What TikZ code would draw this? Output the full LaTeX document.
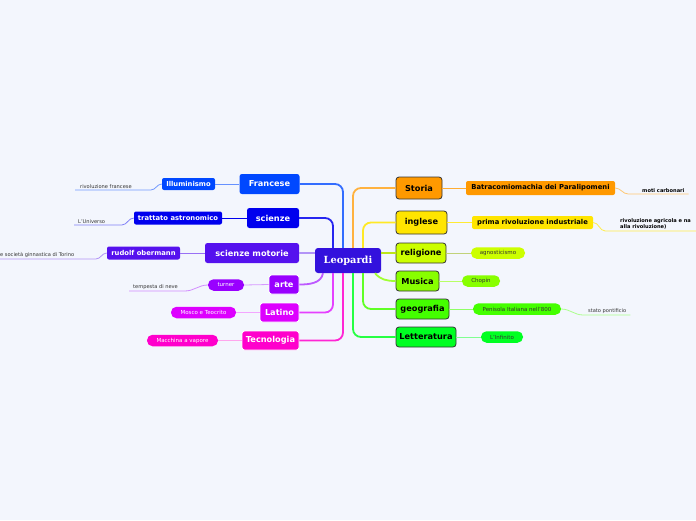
\documentclass[tikz,border=0pt]{standalone}
\usepackage{fontspec}
\setmainfont{DejaVu Sans}
\newfontfamily\rootfont{DejaVu Serif}
\usepackage{xcolor}
\usetikzlibrary{positioning}

\definecolor{bgcol}{HTML}{F3F6FD}
\definecolor{cfra}{HTML}{0048FF}
\definecolor{csci}{HTML}{0000EE}
\definecolor{cmot}{HTML}{5511EE}
\definecolor{carte}{HTML}{9900FF}
\definecolor{clat}{HTML}{DD00FF}
\definecolor{ctec}{HTML}{FF00CC}
\definecolor{croot}{HTML}{3311DD}
\definecolor{csto}{HTML}{FF9900}
\definecolor{cing}{HTML}{FFE500}
\definecolor{crel}{HTML}{CCFF00}
\definecolor{cmus}{HTML}{88FF00}
\definecolor{cgeo}{HTML}{44FF00}
\definecolor{clet}{HTML}{00FF22}
\definecolor{leaftxt}{HTML}{333333}

\begin{document}
\begin{tikzpicture}[
  x=1pt,y=-1pt,
  rootbox/.style={rectangle,rounded corners=3pt,fill=croot,text=white,
                  font=\rootfont\bfseries\fontsize{9.8}{11}\selectfont,
                  minimum width=66pt,minimum height=25pt,inner sep=0pt},
  lmain/.style={rectangle,rounded corners=2.5pt,text=white,inner sep=0pt,
                font=\bfseries\fontsize{8.2}{9}\selectfont,minimum height=20pt},
  lmainw/.style={lmain,draw=white,line width=0.9pt},
  rmain/.style={rectangle,rounded corners=3pt,draw=black!80,line width=0.8pt,
                text=black,inner sep=0pt,font=\bfseries\fontsize{8.2}{9}\selectfont,
                minimum height=20pt},
  subbox/.style={rectangle,rounded corners=2pt,inner sep=0pt,minimum height=13pt,
                 font=\bfseries\fontsize{6.8}{7}\selectfont},
  pill/.style={rectangle,rounded corners=5.5pt,inner sep=0pt,minimum height=11.5pt,
               font=\fontsize{5.5}{6}\selectfont},
  leaf/.style={anchor=south west,inner xsep=0pt,inner ysep=1.5pt,text=leaftxt,
               font=\fontsize{5.1}{5.5}\selectfont},
  leafb/.style={leaf,font=\bfseries\fontsize{5.1}{6}\selectfont,text=black,align=left},
  branch/.style={line width=1.8pt,rounded corners=8pt},
  subline/.style={line width=0.8pt},
  leafline/.style={line width=0.8pt}
]
\fill[bgcol] (0,0) rectangle (696,520);
\useasboundingbox (0,0) rectangle (696,520);

% centre
\node[rootbox] (leo) at (348,260.5) {Leopardi};

% left branches
\node[lmain,fill=cfra,minimum width=60pt] (fra) at (269.5,184) {Francese};
\node[lmain,fill=csci,minimum width=52pt] (sci) at (273,218) {scienze};
\node[lmain,fill=cmot,minimum width=94pt] (mot) at (252,253) {scienze motorie};
\node[lmainw,fill=carte,minimum width=30pt,minimum height=19pt] (arte) at (284,284.5) {arte};
\node[lmainw,fill=clat,minimum width=39pt,minimum height=19pt] (lat) at (279.5,312.5) {Latino};
\node[lmainw,fill=ctec,minimum width=57pt,minimum height=19pt] (tec) at (270.5,340.5) {Tecnologia};

\node[subbox,fill=cfra,text=white,minimum width=53pt,minimum height=12pt] (ill) at (188.5,184) {Illuminismo};
\node[subbox,fill=csci,text=white,minimum width=88pt] (tra) at (178,218) {trattato astronomico};
\node[subbox,fill=cmot,text=white,minimum width=73pt] (rud) at (143.5,253) {rudolf obermann};
\node[pill,fill=carte,text=white,minimum width=36pt] (tur) at (226,285) {turner};
\node[pill,fill=clat,text=white,minimum width=65pt] (mos) at (203.5,312.5) {Mosco e Teocrito};
\node[pill,fill=ctec,text=white,minimum width=71pt] (mac) at (182.5,340.5) {Macchina a vapore};

\node[leaf] (rivf) at (80,190) {rivoluzione francese};
\node[leaf] (univ) at (78,225) {L'Universo};
\node[leaf] (ginn) at (0,259) {e società ginnastica di Torino};
\node[leaf] (temp) at (133,291) {tempesta di neve};

% right branches
\node[rmain,fill=csto,minimum width=46pt,minimum height=22pt] (sto) at (419,188) {Storia};
\node[rmain,fill=cing,minimum width=51pt,minimum height=23pt] (ing) at (421.5,222.5) {inglese};
\node[rmain,fill=crel,minimum width=50pt] (rel) at (421,253) {religione};
\node[rmain,fill=cmus,minimum width=43pt] (mus) at (417.5,281) {Musica};
\node[rmain,fill=cgeo,minimum width=53pt] (geo) at (422.5,309) {geografia};
\node[rmain,fill=clet,minimum width=60pt] (let) at (426,337) {Letteratura};

\node[subbox,fill=csto,text=black,minimum width=149pt,minimum height=14pt] (bat) at (540.5,188) {Batracomiomachia dei Paralipomeni};
\node[subbox,fill=cing,text=black,minimum width=121pt] (pri) at (532.5,222.5) {prima rivoluzione industriale};
\node[pill,fill=crel,text=leaftxt,minimum width=54pt] (agn) at (498,253) {agnosticismo};
\node[pill,fill=cmus,text=leaftxt,minimum width=38pt] (cho) at (481,281) {Chopin};
\node[pill,fill=cgeo,text=leaftxt,minimum width=88pt] (pen) at (517,309) {Penisola Italiana nell'800};
\node[pill,fill=clet,text=leaftxt,minimum width=42pt] (inf) at (502,337) {L'Infinito};

\node[leafb] (moti) at (642,194) {moti carbonari};
\node[leafb] (agri) at (620,231) {rivoluzione agricola e na\\alla rivoluzione)};
\node[leaf] (pont) at (588,315) {stato pontificio};

% centre to branches
\draw[branch,cfra!80] (fra.east) -| ([xshift=-5pt]leo.north);
\draw[branch,csci!85] (sci.east) -| ([xshift=-15pt]leo.north);
\draw[branch,cmot!45] (mot.east) -- (mot.east -| leo.west);
\draw[line width=1.8pt,carte!65] (arte.east) to[out=0,in=-100] ([xshift=-25pt]leo.south);
\draw[branch,clat!75] (lat.east) -| ([xshift=-15pt]leo.south);
\draw[branch,ctec!85] (tec.east) -| ([xshift=-5pt]leo.south);
\draw[branch,csto!75] (sto.west) -| ([xshift=5pt]leo.north);
\draw[branch,cing!85] (ing.west) -| ([xshift=15pt]leo.north);
\draw[branch,crel!80!gray] (rel.west) -- (rel.west -| leo.east);
\draw[line width=1.8pt,cmus!80] ([xshift=27pt]leo.south) to[out=-50,in=180] (mus.west);
\draw[branch,cgeo!85] (geo.west) -| ([xshift=15pt]leo.south);
\draw[branch,clet!85] (let.west) -| ([xshift=5pt]leo.south);

% branches to sub topics
\draw[subline,cfra!60] (fra.west) -- (ill.east);
\draw[subline,csci] (sci.west) -- (tra.east);
\draw[subline,cmot!60] (mot.west) -- (rud.east);
\draw[subline,carte!40] (arte.west) -- (tur.east);
\draw[subline,clat!35] (lat.west) -- (mos.east);
\draw[subline,ctec!35] (tec.west) -- (mac.east);
\draw[subline,csto!80] (sto.east) -- (bat.west);
\draw[subline,cing!80] (ing.east) -- (pri.west);
\draw[subline,crel!50!gray!70] (rel.east) -- (agn.west);
\draw[subline,cmus!60] (mus.east) -- (cho.west);
\draw[subline,cgeo!60] (geo.east) -- (pen.west);
\draw[subline,clet!50] (let.east) -- (inf.west);

% sub topics to notes
\draw[leafline,cfra!55] (ill.west) to[out=180,in=0] ([xshift=-11pt,yshift=-6pt]ill.west) -- ([xshift=-5pt]rivf.south west);
\draw[leafline,csci!50] (tra.west) to[out=180,in=0] ([xshift=-12pt,yshift=-7pt]tra.west) -- ([xshift=-4pt]univ.south west);
\draw[leafline,cmot!45] (rud.west) to[out=180,in=0] ([xshift=-11pt,yshift=-6pt]rud.west) -- ([xshift=-5pt]ginn.south west);
\draw[leafline,carte!45] (tur.west) to[out=180,in=0] ([xshift=-23pt,yshift=-6pt]tur.west) -- ([xshift=-4pt]temp.south west);
\draw[leafline,csto!55] (bat.east) to[out=0,in=180] ([xshift=13pt,yshift=-6pt]bat.east) -- ([xshift=4pt]moti.south east);
\draw[leafline,cing!70] (pri.east) to[out=0,in=180] ([xshift=12pt,yshift=-8.5pt]pri.east) -- ([xshift=80pt]agri.south west);
\draw[leafline,cgeo!45] (pen.east) to[out=0,in=180] ([xshift=22pt,yshift=-6pt]pen.east) -- ([xshift=4pt]pont.south east);
\end{tikzpicture}
\end{document}
